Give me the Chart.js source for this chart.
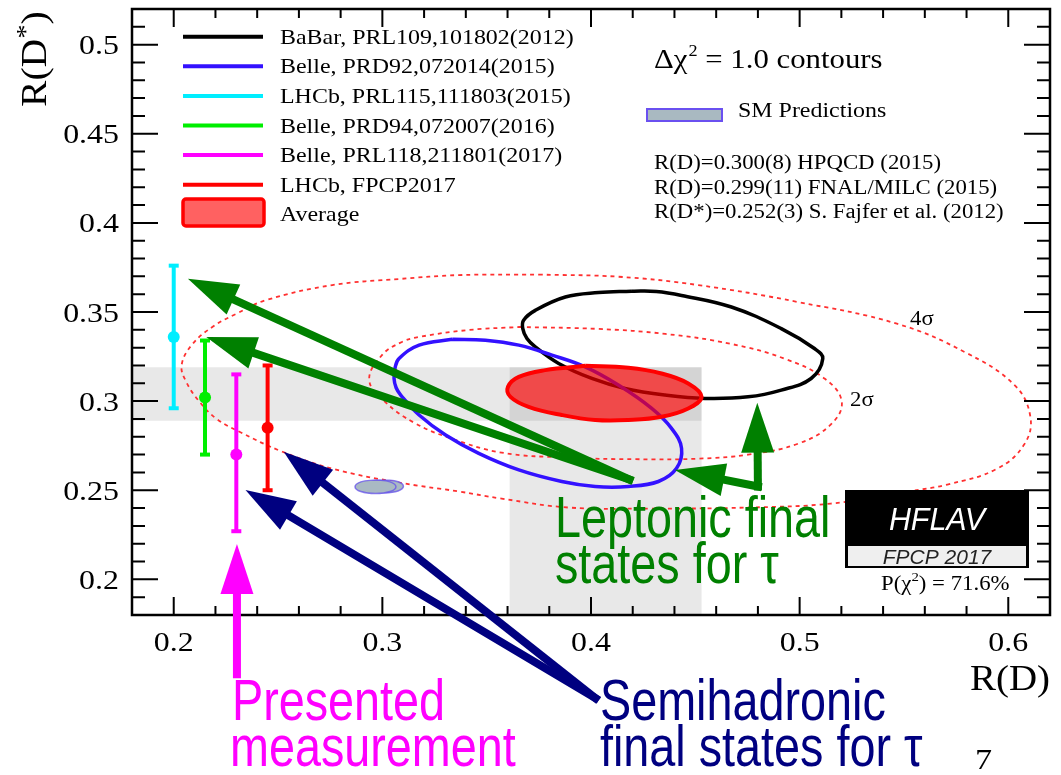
<!DOCTYPE html>
<html>
<head>
<meta charset="utf-8">
<script src="https://cdn.jsdelivr.net/npm/chart.js@4.4.1/dist/chart.umd.min.js"></script>
<style>
html, body { margin: 0; padding: 0; background: #fff; }
canvas { display: block; }
</style>
</head>
<body>
<canvas id="chart" width="1061" height="775"></canvas>
<script>
// axis ticks
let xTicks = [0.2, 0.3, 0.4, 0.5, 0.6];
let yTicks = [0.2, 0.25, 0.3, 0.35, 0.4, 0.45, 0.5];

// 1 sigma averages shown as grey bands
let bandRD = [0.361, 0.453];
let bandRDs = [0.289, 0.319];

// contours: [R(D), R(D*)], each list starts at its top
let sigma4 = [[0.3749,0.3710],[0.4131,0.3698],[0.4514,0.3651],[0.4992,0.3556],[0.5470,0.3433],[0.5790,0.3276],[0.6029,0.3091],[0.6106,0.2912],[0.6076,0.2756],[0.5947,0.2621],[0.5708,0.2532],[0.5517,0.2493],[0.5149,0.2425],[0.4753,0.2403],[0.4275,0.2397],[0.3892,0.2403],[0.3572,0.2453],[0.3367,0.2493],[0.3080,0.2543],[0.2760,0.2621],[0.2521,0.2716],[0.2315,0.2828],[0.2205,0.2901],[0.2124,0.2996],[0.2060,0.3108],[0.2038,0.3203],[0.2090,0.3320],[0.2190,0.3420],[0.2300,0.3490],[0.2444,0.3567],[0.2760,0.3651],[0.3080,0.3685],[0.3367,0.3707]];
let sigma2 = [[0.3654,0.3416],[0.4036,0.3405],[0.4356,0.3377],[0.4671,0.3321],[0.4930,0.3237],[0.5121,0.3125],[0.5202,0.2996],[0.5149,0.2868],[0.4992,0.2761],[0.4753,0.2700],[0.4514,0.2677],[0.4213,0.2674],[0.3892,0.2683],[0.3572,0.2711],[0.3319,0.2795],[0.3152,0.2879],[0.3013,0.2996],[0.2937,0.3119],[0.2999,0.3259],[0.3094,0.3332],[0.3176,0.3360],[0.3415,0.3399]];
let babar = [[0.4194,0.3617],[0.4313,0.3615],[0.4434,0.3593],[0.4673,0.3528],[0.4912,0.3407],[0.5071,0.3295],[0.5111,0.3239],[0.5055,0.3127],[0.4912,0.3062],[0.4753,0.3024],[0.4546,0.3015],[0.4355,0.3034],[0.4163,0.3071],[0.4004,0.3127],[0.3845,0.3211],[0.3733,0.3304],[0.3693,0.3351],[0.3673,0.3407],[0.3677,0.3454],[0.3733,0.3509],[0.3877,0.3584],[0.4036,0.3609]];
let belle15 = [[0.3335,0.3347],[0.3494,0.3342],[0.3654,0.3314],[0.3813,0.3258],[0.3972,0.3192],[0.4131,0.3090],[0.4291,0.2959],[0.4386,0.2847],[0.4434,0.2735],[0.4410,0.2623],[0.4323,0.2549],[0.4179,0.2521],[0.4020,0.2521],[0.3860,0.2549],[0.3654,0.2614],[0.3462,0.2707],[0.3303,0.2810],[0.3176,0.2922],[0.3088,0.3034],[0.3066,0.3075],[0.3056,0.3127],[0.3061,0.3187],[0.3080,0.3239],[0.3176,0.3314]];
let average = [[0.3972,0.3198],[0.4179,0.3187],[0.4338,0.3155],[0.4466,0.3099],[0.4530,0.3024],[0.4466,0.2959],[0.4338,0.2912],[0.4179,0.2894],[0.4020,0.2894],[0.3860,0.2922],[0.3701,0.2968],[0.3614,0.3024],[0.3602,0.3080],[0.3654,0.3136],[0.3781,0.3174]];
let smFnal = [[0.2967,0.2558],[0.3037,0.2547],[0.3065,0.2520],[0.3037,0.2493],[0.2967,0.2482],[0.2897,0.2493],[0.2869,0.2520],[0.2897,0.2547]];
let smHpqcd = [[0.3011,0.2558],[0.3075,0.2548],[0.3101,0.2522],[0.3075,0.2496],[0.3011,0.2486],[0.2947,0.2496],[0.2921,0.2522],[0.2947,0.2548]];

// R(D*)-only measurements (placed at arbitrary R(D))
let barRD = [0.200, 0.215, 0.230, 0.245];
let barRDs = [0.336, 0.302, 0.270, 0.285];
let barLo = [0.296, 0.270, 0.227, 0.250];
let barHi = [0.376, 0.334, 0.315, 0.320];

let legendLabels = ['BaBar, PRL109,101802(2012)', 'Belle, PRD92,072014(2015)', 'LHCb, PRL115,111803(2015)',
    'Belle, PRD94,072007(2016)', 'Belle, PRL118,211801(2017)', 'LHCb, FPCP2017', 'Average'];
let legendColors = ['#000000', '#3311ff', '#00eeff', '#00ee00', '#ff00ff', '#ff0000', '#ff0000'];
let barColors = legendColors.slice(2, 6);

let smLines = ['R(D)=0.300(8) HPQCD (2015)', 'R(D)=0.299(11) FNAL/MILC (2015)', 'R(D*)=0.252(3) S. Fajfer et al. (2012)'];

// slide annotations, in data units
let green = '#008000', navy = '#000080', magenta = '#ff00ff';
let arrows = [
    {from: [0.4184, 0.2560], to: [0.2068, 0.3686], color: green},
    {from: [0.4184, 0.2560], to: [0.2156, 0.3360], color: green},
    {from: [0.4800, 0.2521], to: [0.4402, 0.2614], color: green},
    {from: [0.4800, 0.2521], to: [0.4797, 0.2991], color: green},
    {from: [0.4021, 0.1334], to: [0.2344, 0.2502], color: navy},
    {from: [0.4021, 0.1334], to: [0.2527, 0.2716], color: navy},
    {from: [0.2303, 0.1468], to: [0.2303, 0.2198], color: magenta}
];

const serif = '"Liberation Serif", "Times New Roman", serif';
const sans = '"Liberation Sans", Arial, sans-serif';
const WIDE = 1.14;   // plot text looks a bit stretched
const NARROW = 0.82; // slide text looks condensed

function pts(list, close) {
    let out = list.map(p => ({x: p[0], y: p[1]}));
    if (close) out.push(out[0]);
    return out;
}

function rect(x0, x1, y0, y1) {
    return [[x0, y0], [x1, y0], [x1, y1], [x0, y1]];
}

let datasets = [];
datasets.push({data: pts(rect(0.18, bandRD[1], bandRDs[0], bandRDs[1]), true), fill: 'shape',
    backgroundColor: 'rgba(0,0,0,0.09)', borderColor: 'rgba(0,0,0,0)', borderWidth: 0, tension: 0, order: 20});
datasets.push({data: pts(rect(bandRD[0], bandRD[1], 0.18, bandRDs[1]), true), fill: 'shape',
    backgroundColor: 'rgba(0,0,0,0.09)', borderColor: 'rgba(0,0,0,0)', borderWidth: 0, tension: 0, order: 19});
[sigma4, sigma2].forEach(c => datasets.push({data: pts(c, true), borderColor: '#ff3030', borderWidth: 1.8,
    borderDash: [4, 4], fill: false, tension: 0.4, order: 15}));
[smFnal, smHpqcd].forEach(c => datasets.push({data: pts(c, true), borderColor: 'rgba(100,80,235,0.75)', borderWidth: 1.5,
    backgroundColor: '#a9b9c3', fill: 'shape', tension: 0.4, order: 14}));
datasets.push({label: legendLabels[0], data: pts(babar, true), borderColor: legendColors[0], borderWidth: 3.5, fill: false, tension: 0.4, order: 12});
datasets.push({label: legendLabels[1], data: pts(belle15, true), borderColor: legendColors[1], borderWidth: 3.5, fill: false, tension: 0.4, order: 11});
datasets.push({label: legendLabels[6], data: pts(average, true), borderColor: '#ff0000', borderWidth: 4,
    backgroundColor: 'rgba(255,0,0,0.65)', fill: 'shape', tension: 0.4, order: 10});
barRD.forEach((x, i) => {
    datasets.push({label: legendLabels[i + 2], data: [{x: x, y: barLo[i]}, {x: x, y: barHi[i]}],
        borderColor: barColors[i], borderWidth: 4, pointStyle: 'line', pointRadius: 5,
        pointBorderWidth: 4, pointBorderColor: barColors[i], fill: false, order: 5});
    datasets.push({data: [{x: x, y: barRDs[i]}], showLine: false, pointStyle: 'circle', pointRadius: 6,
        pointBackgroundColor: barColors[i], pointBorderWidth: 0, order: 4});
});
datasets.forEach(d => { if (d.showLine === undefined) d.showLine = true; if (d.pointRadius === undefined) d.pointRadius = 0; });

function put(ctx, s, x, y, size, color, opt) {
    opt = opt || {};
    ctx.save();
    ctx.font = (opt.style || '') + ' ' + size + 'px ' + (opt.family || serif);
    ctx.fillStyle = color;
    ctx.textBaseline = 'alphabetic';
    ctx.translate(x, y);
    if (opt.rot) ctx.rotate(opt.rot);
    let w = ctx.measureText(s).width;
    let sx = opt.width ? opt.width / w : (opt.sx || WIDE);
    ctx.scale(sx, 1);
    let dx = opt.align === 'right' ? -w : opt.align === 'center' ? -w / 2 : 0;
    ctx.fillText(s, dx, 0);
    ctx.restore();
    return w * sx;
}

function drawArrow(ctx, x1, y1, x2, y2, color) {
    let a = Math.atan2(y2 - y1, x2 - x1);
    let hl = 50, hw = 33;
    let bx = x2 - hl * Math.cos(a), by = y2 - hl * Math.sin(a);
    ctx.strokeStyle = color;
    ctx.fillStyle = color;
    ctx.lineWidth = 8;
    ctx.lineCap = 'square';
    ctx.beginPath();
    ctx.moveTo(x1, y1);
    ctx.lineTo(bx + 4 * Math.cos(a), by + 4 * Math.sin(a));
    ctx.stroke();
    ctx.beginPath();
    ctx.moveTo(x2, y2);
    ctx.lineTo(bx + hw / 2 * Math.sin(a), by - hw / 2 * Math.cos(a));
    ctx.lineTo(bx - hw / 2 * Math.sin(a), by + hw / 2 * Math.cos(a));
    ctx.closePath();
    ctx.fill();
}

const decor = {
    id: 'decor',
    afterDatasetsDraw(chart) {
        const ctx = chart.ctx, xs = chart.scales.x, ys = chart.scales.y, a = chart.chartArea;
        ctx.save();
        // frame and inward ticks
        ctx.strokeStyle = '#000';
        ctx.lineWidth = 2.5;
        ctx.strokeRect(a.left, a.top, a.right - a.left, a.bottom - a.top);
        ctx.lineWidth = 2;
        ctx.beginPath();
        for (let i = 10; i <= 30; i++) {
            let px = xs.getPixelForValue(i * 0.02), len = i % 5 === 0 ? 18 : 9;
            ctx.moveTo(px, a.bottom); ctx.lineTo(px, a.bottom - len);
            ctx.moveTo(px, a.top); ctx.lineTo(px, a.top + len);
        }
        for (let i = 19; i <= 51; i++) {
            let py = ys.getPixelForValue(i / 100), len = i % 5 === 0 ? 26 : 13;
            ctx.moveTo(a.left, py); ctx.lineTo(a.left + len, py);
            ctx.moveTo(a.right, py); ctx.lineTo(a.right - len, py);
        }
        ctx.stroke();
        xTicks.forEach(v => put(ctx, String(v), xs.getPixelForValue(v), a.bottom + 36, 28, '#000', {align: 'center'}));
        yTicks.forEach(v => put(ctx, String(v), a.left - 13, ys.getPixelForValue(v) + 9.5, 28, '#000', {align: 'right'}));
        // axis titles
        put(ctx, 'R(D)', a.right, 690, 36, '#000', {align: 'right', width: 80});
        ctx.save();
        ctx.translate(46, 107);
        ctx.rotate(-Math.PI / 2);
        let w = put(ctx, 'R(D', 0, 0, 36, '#000', {sx: 1.1});
        w += put(ctx, '*', w, -12, 26, '#000', {sx: 1.1});
        put(ctx, ')', w, 0, 36, '#000', {sx: 1.1});
        ctx.restore();

        // legend
        legendLabels.forEach((s, i) => {
            let y = 36.7 + i * 29.6;
            if (i < 6) {
                ctx.strokeStyle = legendColors[i];
                ctx.lineWidth = 4;
                ctx.lineCap = 'butt';
                ctx.beginPath(); ctx.moveTo(183, y); ctx.lineTo(263, y); ctx.stroke();
            } else {
                ctx.fillStyle = 'rgba(255,0,0,0.62)';
                ctx.strokeStyle = '#ff0000';
                ctx.lineWidth = 3.5;
                ctx.beginPath();
                ctx.roundRect(183, 199, 81, 27, 3);
                ctx.fill(); ctx.stroke();
            }
            put(ctx, s, 280, y + 7, 21, '#000');
        });

        // SM info block
        let x = 654;
        x += put(ctx, 'Δχ', x, 68, 27, '#000');
        x += put(ctx, '2', x + 1, 56, 16, '#000') + 1;
        put(ctx, ' = 1.0 contours', x, 68, 27, '#000');
        ctx.fillStyle = '#a9b9c1';
        ctx.strokeStyle = '#6a50f0';
        ctx.lineWidth = 2;
        ctx.fillRect(647, 109, 75, 12); ctx.strokeRect(647, 109, 75, 12);
        put(ctx, 'SM Predictions', 738, 117, 21, '#000');
        smLines.forEach((s, i) => put(ctx, s, 654, 169 + i * 24.5, 20, '#000'));

        // contour labels
        put(ctx, '4σ', 910, 325, 20, '#000');
        put(ctx, '2σ', 850, 406, 20, '#000');

        // HFLAV stamp
        ctx.fillStyle = '#000';
        ctx.fillRect(845, 490, 184, 78);
        ctx.fillStyle = '#efefef';
        ctx.fillRect(848, 546, 178, 20);
        put(ctx, 'HFLAV', 937, 530, 31, '#fff', {family: sans, style: 'italic', align: 'center', sx: 0.98});
        put(ctx, 'FPCP 2017', 937, 564, 21, '#222', {family: sans, style: 'italic', align: 'center', sx: 1});
        x = 881;
        x += put(ctx, 'P(χ', x, 590, 20, '#000');
        x += put(ctx, '2', x, 581, 13, '#000');
        put(ctx, ') = 71.6%', x, 590, 20, '#000');

        // slide annotations
        arrows.forEach(r => drawArrow(ctx, xs.getPixelForValue(r.from[0]), ys.getPixelForValue(r.from[1]),
            xs.getPixelForValue(r.to[0]), ys.getPixelForValue(r.to[1]), r.color));
        put(ctx, 'Leptonic final', 555, 537, 57, green, {family: sans, sx: NARROW});
        put(ctx, 'states for τ', 555, 583, 57, green, {family: sans, sx: NARROW});
        put(ctx, 'Presented', 232, 720, 57, magenta, {family: sans, sx: NARROW});
        put(ctx, 'measurement', 230, 766, 57, magenta, {family: sans, sx: NARROW});
        put(ctx, 'Semihadronic', 600, 720, 57, navy, {family: sans, sx: NARROW});
        put(ctx, 'final states for τ', 600, 766, 57, navy, {family: sans, sx: NARROW});
        put(ctx, '7', 975, 769, 30, '#000');
        ctx.restore();
    }
};

let chart = new Chart(document.getElementById('chart').getContext('2d'), {
    type: 'scatter',
    data: {datasets: datasets},
    options: {
        responsive: false,
        animation: false,
        events: [],
        layout: {padding: {left: 132, right: 11, top: 6, bottom: 160}},
        scales: {
            x: {type: 'linear', min: 0.18, max: 0.62, display: false},
            y: {type: 'linear', min: 0.18, max: 0.52, display: false}
        },
        plugins: {legend: {display: false}, tooltip: {enabled: false}}
    },
    plugins: [decor]
});
</script>
</body>
</html>
